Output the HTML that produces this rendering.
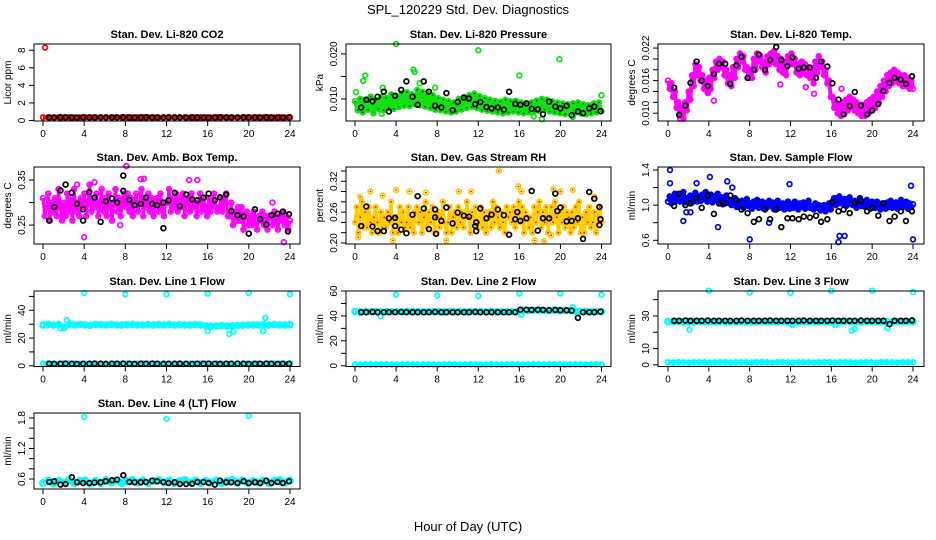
<!DOCTYPE html>
<html><head><meta charset="utf-8">
<style>
html,body{margin:0;padding:0;background:#fff;}
svg{display:block;font-family:"Liberation Sans",sans-serif;}
</style></head>
<body>
<svg id="chart" width="936" height="540" viewBox="0 0 936 540">
<text x="468" y="14" text-anchor="middle" font-size="13">SPL_120229  Std. Dev. Diagnostics</text>
<text x="468" y="531" text-anchor="middle" font-size="13">Hour of Day (UTC)</text>
</svg>
<script>
const xTicks=[0,4,8,12,16,20,24];
const blkHours=[0.6,1.1,1.7,2.2,2.8,3.3,3.9,4.5,5.0,5.6,6.1,6.7,7.2,7.8,8.4,8.9,9.5,10.0,10.6,11.1,11.7,12.2,12.8,13.3,13.9,14.5,15.0,15.6,16.1,16.7,17.2,17.8,18.3,18.9,19.5,20.0,20.6,21.1,21.7,22.2,22.8,23.3,23.9];

// CO2
const co2Col=[0.35,0.36,0.34,0.37,0.35,0.36,0.34,0.35,0.37,0.36,0.35,0.34,0.36,0.35,0.37,0.35,0.36,0.34,0.35,0.36,0.37,0.35,0.34,0.36,0.35,0.36,0.35,0.37,0.34,0.35,0.36,0.35,0.34,0.36,0.37,0.35,0.36,0.34,0.35,0.36,0.35,0.37,0.36,0.35,0.34,0.36,0.35,0.36];
const co2Blk=[0.35,0.34,0.36,0.35,0.35,0.34,0.36,0.35,0.35,0.36,0.34,0.35,0.35,0.36,0.35,0.34,0.35,0.36,0.35,0.35,0.34,0.36,0.35,0.35,0.34,0.36,0.35,0.35,0.34,0.35,0.36,0.35,0.34,0.35,0.36,0.35,0.35,0.34,0.36,0.35,0.35,0.34,0.35];
const co2OutX=[0.2], co2OutY=[8.3];

// Pressure (x0.001 kPa)
const presCol=[9.5,7.5,10,7,9.8,7.6,10.5,7.2,9.7,7.8,10.4,7.5,10.2,8,11,7.8,10.5,8.2,11.2,8.5,11.5,8.4,11,8.8,12,8.6,11.6,8.3,11.2,8,10.8,7.6,10.2,7.5,9.8,7.2,9.5,7,9.2,7.2,10,7.6,10.4,8,10.8,8.2,11.2,8,10.6,7.6,10.2,7.4,9.8,7.2,9.6,7,9.4,6.8,9.8,7,9.5,7.2,9.6,7,9.2,6.8,9,7,9.2,7.2,9.6,7.4,10,7.6,9.8,7.2,9.5,7,9.2,6.8,9,6.6,8.8,6.8,9,7,9.2,6.8,8.8,6.6,8.6,6.8,9,7,9.2,7.2];
const presBlk=[8.1,9.8,9.5,10.5,11.6,7.2,10.7,12,13.9,10.5,8.7,13.9,11.6,8.5,8.1,11.3,7.5,9.3,10.3,10.1,8.8,9.3,8.2,7.9,8.1,7.6,11.6,8.9,8.7,9,7.8,7.7,6.6,9.4,8.3,7.9,8.5,6.4,7.2,6.8,7.9,8.3,7.3];
const presOutX=[0.1,0.8,1.0,2.7,4.0,5.7,5.8,6.3,7.8,12.0,16.0,19.9,24.0,17.4,18.2,21.2,1.8,2.6];
const presOutY=[11.5,14,15.2,12.5,22.2,16.5,16,13.5,12.5,20.8,15.2,18.8,10.8,6.1,5.5,6,6.8,6.7];

// Li-820 temp (x0.001 C)
const tempCol=[16,14.5,15.5,13,14,11,12,9.5,11,9,12,10.5,14,12.5,17,15,19,17,18.5,16,17,14.5,16,14,16.5,14.5,18,16.5,19.5,18,20,18.5,19.5,17,18,15.5,17,15,18.5,16.5,20,18.5,21,19.5,20.5,18,18.5,16.5,18,16.5,20,18,21,19.5,20.5,18.5,19.5,17.5,20.5,19,21,19.5,21.5,19,20.5,18,20,17.5,19.5,17,20.5,19,21,19,20,17.5,19,17,19.5,17.5,19,17,18.5,16.5,18,15.5,19.5,17.5,20.5,18.5,19.5,17,18,15.5,16,13,13,11,12,10,11.5,9.5,12,10,12.5,10.5,13,11,12.5,10.5,12,10,11.5,9.5,11.5,9.5,12,10,12.5,10.5,13,11,14,12,15,13,16,14,17,15,17.5,15.5,18,16,17.5,15.5,17,15,17,15,16.5,14.5,16,14.5];
const tempBlk=[14.7,9.7,11.4,15.6,19.5,16,15,17.2,19.1,19.1,15.4,18.8,20.4,16.5,18,20.8,18,19.8,22.2,19.8,18.7,20.3,18.2,18.4,18.4,16.5,19.5,18.6,15.5,12.5,9.8,11.3,13.9,11.4,9.8,10.5,11.7,14.1,15.6,16.5,16.2,15.4,16.8];
const tempOutX=[1.2,3.9,4.5,11.0,13.5,14.3,17.0];
const tempOutY=[9.0,13.7,12.3,15.3,14.8,13.6,14.5];

// Amb box temp
const ambCol=[31,27,29,32,26,30,28,31,27,33,29,26,30,27,32,28,31,26,33,28,30,27,31,29,32,27,30,34,28,31,29,32,27,30,33,28,31,27,32,29,26,30,33,28,31,27,30,32,29,32,28,31,27,30,32,28,30,33,27,31,29,32,28,31,27,30,31,28,32,29,27,30,30,33,28,31,29,32,28,31,29,32,27,30,31,28,32,29,30,27,30,32,28,31,29,27,31,28,30,32,29,28,29,31,28,30,32,27,27,30,25,28,26,29,26,29,24,27,28,25,27,25,28,26,24,27,26,28,25,27,24,27,27,25,28,26,24,27,26,28,25,27,24,26];
const ambBlk=[0.260,0.290,0.327,0.340,0.322,0.297,0.285,0.323,0.311,0.257,0.303,0.309,0.300,0.326,0.306,0.294,0.297,0.311,0.297,0.294,0.300,0.305,0.322,0.292,0.318,0.307,0.305,0.311,0.320,0.305,0.312,0.318,0.281,0.272,0.269,0.231,0.285,0.263,0.251,0.272,0.275,0.280,0.274];
const ambOutX=[8.1,9.5,9.8,5.0,4.0,23.4,22.3,3.3,7.5,14.2,15.0];
const ambOutY=[0.381,0.352,0.353,0.345,0.223,0.212,0.30,0.34,0.25,0.35,0.35];
const ambBlkExX=[7.8,11.7,23.8,3.9], ambBlkExY=[0.36,0.243,0.236,0.26];

// RH
const rhCol=[24,27,22,25,28,23,26,23,27,24,22,25,27,24,22,26,23,25,23,26,24,28,22,25,25,22,27,24,26,23,24,27,23,25,22,26,27,24,26,22,25,28,23,26,24,27,22,25,26,23,25,28,24,22,24,27,22,25,26,23,27,24,26,23,25,28,25,22,26,24,27,23,24,27,23,26,22,25,26,23,28,24,27,25,23,26,24,22,27,25,26,24,27,23,25,28,24,27,22,26,25,23,25,22,27,24,26,28,23,26,24,27,22,25,27,24,28,25,22,26,24,27,23,26,25,22,26,23,27,24,28,22,25,22,26,24,27,23,24,26,22,25,27,24];
const rhBlk=[0.233,0.271,0.232,0.223,0.223,0.248,0.249,0.226,0.219,0.255,0.291,0.267,0.227,0.265,0.243,0.269,0.238,0.259,0.253,0.251,0.233,0.267,0.248,0.255,0.265,0.254,0.216,0.246,0.243,0.248,0.301,0.224,0.248,0.248,0.296,0.269,0.242,0.243,0.248,0.208,0.299,0.286,0.246];
const rhOutX=[0.3,0.5,1.5,2.7,3.7,4.0,5.3,8.9,10.1,11.3,14.0,15.9,16.2,17.5,18.4,19.3,19.1,20.0,21.2,23.3,6.9];
const rhOutY=[0.211,0.29,0.30,0.292,0.205,0.303,0.30,0.205,0.30,0.30,0.34,0.31,0.30,0.205,0.203,0.305,0.215,0.30,0.303,0.29,0.298];
const rhBlkExX=[7.9,7.8,11.8,11.8,15.8,23.8,23.8,3.9,19.7], rhBlkExY=[0.218,0.25,0.24,0.223,0.26,0.27,0.235,0.233,0.262];

// Sample flow
const sfCol=[104,110,102,108,113,105,112,104,109,115,103,108,106,111,103,109,114,104,110,105,112,107,115,104,108,112,103,110,106,113,104,109,101,107,111,103,106,100,104,108,98,103,101,105,97,103,107,99,102,96,104,99,106,97,100,104,96,102,98,105,99,103,95,101,105,97,98,102,95,100,104,96,101,97,104,99,95,102,98,103,96,101,105,97,99,95,102,97,100,94,96,100,93,98,102,95,104,108,100,106,110,102,103,107,99,105,109,101,100,105,97,103,108,99,102,98,106,100,96,104,101,97,104,99,95,102,100,96,103,98,105,97,99,103,96,101,106,98,100,104,96,102,98,101];
const sfBlk=[0.99,1.13,1.00,1.02,1.08,0.97,1.11,0.90,1.02,1.02,1.11,1.06,0.95,0.91,0.81,0.84,0.95,0.84,0.95,0.75,0.85,0.85,0.84,0.87,0.86,0.88,0.81,0.84,1.03,0.93,0.95,0.91,1.03,1.05,0.93,0.97,0.88,1.02,0.82,0.87,0.93,0.82,0.93];
const sfOutX=[0.2,0.2,1.5,2.8,4.1,4.9,5.8,6.3,8.0,11.9,16.7,16.8,17.3,23.8,24.0,1.8,2.2,9.9];
const sfOutY=[1.40,1.25,0.82,1.25,1.32,0.75,1.27,1.2,0.61,1.24,0.58,0.65,0.65,1.22,0.61,0.92,0.92,0.8];

// Line 1
const l1Hi=[29.5,29.8,29.3,29.6,27.5,30,29.4,29.7,29.5,29.2,29.8,29.6,29.4,29.7,29.5,29.3,29.6,29.8,29.4,29.5,29.6,29.3,29.7,29.5,29.8,29.4,29.6,29.5,29.3,29.7,29.5,28.8,28.5,28.7,28.9,28.6,28.8,29,29.2,29.4,29.3,29.5,29.6,29.4,29.7,29.5,29.3,29.6];
const l1Lo=[1.6,1.5,1.6,1.4,1.5,1.6,1.5,1.4,1.6,1.5,1.5,1.6,1.4,1.5,1.6,1.5,1.5,1.4,1.6,1.5,1.5,1.6,1.4,1.5,1.6,1.5,1.5,1.4,1.6,1.5,1.5,1.6,1.4,1.5,1.6,1.5,1.5,1.4,1.6,1.5,1.5,1.6,1.4,1.5,1.6,1.5,1.5,1.6];
const l1Blk=[1.5,1.4,1.5,1.6,1.5,1.4,1.5,1.5,1.6,1.5,1.4,1.5,1.5,1.6,1.5,1.4,1.5,1.5,1.6,1.5,1.4,1.5,1.5,1.6,1.5,1.4,1.5,1.5,1.6,1.5,1.4,1.5,1.5,1.6,1.5,1.4,1.5,1.5,1.6,1.5,1.4,1.5,1.5];
const l1OutX=[4,8,12,16,20,24,2.3,1.7,16.0,18.1,18.5,21.4,21.6];
const l1OutY=[52.5,51.5,51.5,52,52.5,51.5,33,27,25,23,24.5,25,34.5];

// Line 2
const l2Hi=[43.5,43.2,43.6,43.4,43.5,43.3,43.6,43.4,43.5,43.2,43.6,43.4,43.5,43.3,43.6,43.4,43.5,43.2,43.6,43.4,43.5,43.3,43.6,43.4,43.5,43.2,43.6,43.4,43.5,43.3,43.6,43.4,44.5,44.3,44.6,44.4,44.5,44.3,44.6,44.4,44.5,44.3,43.8,43.5,43.6,43.4,43.5,43.3];
const l2Lo=[1.0,0.9,1.1,1.0,0.9,1.0,1.1,1.0,0.9,1.0,1.1,1.0,0.9,1.0,1.1,1.0,0.9,1.0,1.1,1.0,0.9,1.0,1.1,1.0,0.9,1.0,1.1,1.0,0.9,1.0,1.1,1.0,0.9,1.0,1.1,1.0,0.9,1.0,1.1,1.0,0.9,1.0,1.1,1.0,0.9,1.0,1.1,1.0];
const l2Blk=[43,43,43.2,43,43,43,43,43.2,43,43,43,43,43,43.2,43,43,43,43,43,43,43.2,43,43,43,43,43,43,43,45,45,44.8,45,44.8,44.6,44.8,44.5,44.5,44.3,38.5,43,43,43,43.5];
const l2OutX=[4,8,12,16,20,24,2.5,16.2,21.2];
const l2OutY=[57,56.5,56,58,58,57,40,41,47];

// Line 3
const l3Hi=[26.5,26.3,26.6,26.4,26.5,26.3,26.6,26.4,26.5,26.3,26.6,26.4,26.5,26.3,26.6,26.4,26.5,26.3,26.6,26.4,26.5,26.3,26.6,26.4,26.5,26.3,26.6,26.4,26.5,26.3,26.6,26.4,26.5,26.3,26.6,26.4,26.5,26.3,26.6,26.4,26.5,26.3,26.6,26.4,26.5,26.3,26.6,26.4];
const l3Lo=[1.5,1.4,1.6,1.5,1.4,1.5,1.6,1.5,1.4,1.5,1.6,1.5,1.4,1.5,1.6,1.5,1.4,1.5,1.6,1.5,1.4,1.5,1.6,1.5,1.4,1.5,1.6,1.5,1.4,1.5,1.6,1.5,1.4,1.5,1.6,1.5,1.4,1.5,1.6,1.5,1.4,1.5,1.6,1.5,1.4,1.5,1.6,1.5];
const l3Blk=[27,27,27.2,27,27,27,27.2,27,27,27,27,27,27.2,27,27,27,27,27.2,27,27,27,27,27,27.2,27,27,27,27,27.2,27,27,27,27,27.2,27,27,27,27,25,27,27,27,27.3];
const l3OutX=[4,8,12,16,20,24,2.1,18.0,18.3,21.5,12.2,16.4];
const l3OutY=[45.5,44.3,44.3,45.5,45.5,44.6,21.5,21,22,22.5,24.5,24.5];

// Line 4
const l4Col=[0.52,0.57,0.51,0.56,0.53,0.58,0.52,0.56,0.57,0.51,0.56,0.52,0.58,0.53,0.57,0.52,0.56,0.58,0.53,0.57,0.52,0.56,0.58,0.53,0.57,0.52,0.56,0.58,0.53,0.57,0.52,0.56,0.53,0.57,0.52,0.56,0.58,0.53,0.57,0.52,0.56,0.53,0.57,0.52,0.56,0.58,0.53,0.57];
const l4Blk=[0.541,0.554,0.489,0.502,0.633,0.534,0.521,0.521,0.528,0.534,0.554,0.574,0.587,0.672,0.541,0.534,0.534,0.541,0.567,0.554,0.541,0.521,0.534,0.502,0.502,0.508,0.541,0.541,0.521,0.489,0.567,0.534,0.534,0.521,0.554,0.521,0.534,0.521,0.567,0.521,0.541,0.521,0.554];
const l4OutX=[4,12,20], l4OutY=[1.82,1.78,1.84];

const NS='http://www.w3.org/2000/svg';
const svg=document.getElementById('chart');
function mk(tag,attrs,parent){const e=document.createElementNS(NS,tag);for(const k in attrs)e.setAttribute(k,attrs[k]);(parent||svg).appendChild(e);return e;}

const cols=[{l:34,r:300,x0:43,x24:290},{l:346,r:611,x0:355,x24:601.5},{l:658,r:924,x0:668,x24:913}];
const rows=[{t:44,b:121},{t:167,b:244},{t:291,b:366.5},{t:413,b:489}];

function panel(name,title,ylab,ci,ri,ylo,yhi,yticks,ylabels,layers){
  const c=cols[ci],r=rows[ri];
  const g=mk('g',{});
  
  
  const X=h=>c.x0+(c.x24-c.x0)*h/24;
  const Y=v=>r.b-(v-ylo)/(yhi-ylo)*(r.b-r.t);
  const pts=mk('g',{},g);
  
  
  layers.forEach(L=>{
    const P=L.ys.map((v,i)=>{const h=L.xs?L.xs[i]:i*24/(L.ys.length-1);return [X(h),Y(v*(L.k||1))];});
    if(L.bw){
      const pl=mk('polyline',{points:P.map(p=>p[0].toFixed(1)+','+p[1].toFixed(1)).join(' '),fill:'none',stroke:L.c,'stroke-width':L.bw,'stroke-linejoin':'round'},pts);
      
      
    }
    P.forEach(p=>{
      const cc=mk('circle',{cx:p[0].toFixed(1),cy:p[1].toFixed(1),r:L.r||2.4,fill:'none',stroke:L.c,'stroke-width':L.w||1.7},pts);
      
      
      if(L.dot){mk('circle',{cx:p[0].toFixed(1),cy:p[1].toFixed(1),r:0.9,fill:L.dot},pts);}
    });
  });
  const box=mk('rect',{x:c.l,y:r.t,width:c.r-c.l,height:r.b-r.t,fill:'none',stroke:'#000','stroke-width':1},g);
  
  
  const t=mk('text',{x:(c.l+c.r)/2,y:r.t-6,'text-anchor':'middle','font-size':11,'font-weight':'bold'},g);
  t.textContent=title;
  
  
  xTicks.forEach(h=>{
    mk('line',{x1:X(h),x2:X(h),y1:r.b,y2:r.b+5,stroke:'#000'},g);
    const tl=mk('text',{x:X(h),y:r.b+16,'text-anchor':'middle','font-size':10},g);
    tl.textContent=h;
    
    
  });
  mk('line',{x1:X(0),x2:X(24),y1:r.b,y2:r.b,stroke:'#000'},g);
  yticks.forEach(v=>{mk('line',{x1:c.l,x2:c.l-5,y1:Y(v),y2:Y(v),stroke:'#000'},g);});
  mk('line',{x1:c.l,x2:c.l,y1:Y(yticks[0]),y2:Y(yticks[yticks.length-1]),stroke:'#000'},g);
  ylabels.forEach(([v,s])=>{
    const yy=Y(v);
    const tl=mk('text',{x:c.l-9,y:yy,'text-anchor':'middle','font-size':10,transform:`rotate(-90 ${c.l-9} ${yy})`},g);
    tl.textContent=s;
    
    
  });
  const cy=(r.t+r.b)/2;
  const yl=mk('text',{x:c.l-23,y:cy,'text-anchor':'middle','font-size':10,transform:`rotate(-90 ${c.l-23} ${cy})`},g);
  yl.textContent=ylab;
  
  
}

const RED='#ff0000',BLK='#000',GRN='#11e011',MAG='#ff00ff',BLU='#0000ff',CYN='#00ffff',YEL='#ffcc00';
panel('panel-co2','Stan. Dev. Li-820 CO2','Licor ppm',0,0,-0.06,8.71,[0,2,4,6,8],[[0,'0'],[2,'2'],[4,'4'],[6,'6'],[8,'8']],[
 {ys:co2Col,c:RED,bw:4},{xs:co2OutX,ys:co2OutY,c:RED},{xs:blkHours,ys:co2Blk,c:BLK}]);
panel('panel-pressure','Stan. Dev. Li-820 Pressure','kPa',1,0,0.0051,0.0222,[0.010,0.015,0.020],[[0.010,'0.010'],[0.020,'0.020']],[
 {ys:presCol,c:GRN,k:0.001,dot:'#0a5a0a',bw:4},{xs:presOutX,ys:presOutY,c:GRN,k:0.001},{xs:blkHours,ys:presBlk,c:BLK,k:0.001}]);
panel('panel-li820-temp','Stan. Dev. Li-820 Temp.','degrees C',2,0,0.00856,0.02275,[0.010,0.012,0.014,0.016,0.018,0.020,0.022],[[0.010,'0.010'],[0.016,'0.016'],[0.022,'0.022']],[
 {ys:tempCol,c:MAG,k:0.001,bw:4},{xs:tempOutX,ys:tempOutY,c:MAG,k:0.001},{xs:blkHours,ys:tempBlk,c:BLK,k:0.001}]);
panel('panel-amb-box-temp','Stan. Dev. Amb. Box Temp.','degrees C',0,1,0.208,0.379,[0.25,0.30,0.35],[[0.25,'0.25'],[0.35,'0.35']],[
 {ys:ambCol,c:MAG,k:0.01,bw:3},{xs:ambOutX,ys:ambOutY,c:MAG},{xs:blkHours,ys:ambBlk,c:BLK},{xs:ambBlkExX,ys:ambBlkExY,c:BLK}]);
panel('panel-gas-rh','Stan. Dev. Gas Stream RH','percent',1,1,0.198,0.3477,[0.20,0.22,0.24,0.26,0.28,0.30,0.32,0.34],[[0.20,'0.20'],[0.26,'0.26'],[0.32,'0.32']],[
 {ys:rhCol,c:YEL,k:0.01,dot:RED,bw:3},{xs:rhOutX,ys:rhOutY,c:YEL,dot:RED},{xs:blkHours,ys:rhBlk,c:BLK},{xs:rhBlkExX,ys:rhBlkExY,c:BLK}]);
panel('panel-sample-flow','Stan. Dev. Sample Flow','ml/min',2,1,0.558,1.434,[0.6,0.8,1.0,1.2,1.4],[[0.6,'0.6'],[1.0,'1.0'],[1.4,'1.4']],[
 {ys:sfCol,c:BLU,k:0.01,bw:4},{xs:sfOutX,ys:sfOutY,c:BLU},{xs:blkHours,ys:sfBlk,c:BLK}]);
panel('panel-line1-flow','Stan. Dev. Line 1 Flow','ml/min',0,2,-0.5,53.9,[0,10,20,30,40,50],[[0,'0'],[20,'20'],[40,'40']],[
 {ys:l1Hi,c:CYN,r:2.6,w:2.4,bw:5},{ys:l1Lo,c:CYN,r:2.4,w:2,bw:4},{xs:l1OutX,ys:l1OutY,c:CYN},{xs:blkHours,ys:l1Blk,c:BLK}]);
panel('panel-line2-flow','Stan. Dev. Line 2 Flow','ml/min',1,2,-0.6,60,[0,10,20,30,40,50,60],[[0,'0'],[20,'20'],[40,'40'],[60,'60']],[
 {ys:l2Hi,c:CYN,r:2.6,w:2.4,bw:5},{ys:l2Lo,c:CYN,r:2.4,w:2,bw:4},{xs:l2OutX,ys:l2OutY,c:CYN},{xs:blkHours,ys:l2Blk,c:BLK}]);
panel('panel-line3-flow','Stan. Dev. Line 3 Flow','ml/min',2,2,-1,45.3,[0,10,20,30,40],[[0,'0'],[10,'10'],[30,'30']],[
 {ys:l3Hi,c:CYN,r:2.6,w:2.4,bw:5},{ys:l3Lo,c:CYN,r:2.4,w:2,bw:4},{xs:l3OutX,ys:l3OutY,c:CYN},{xs:blkHours,ys:l3Blk,c:BLK}]);
panel('panel-line4-flow','Stan. Dev. Line 4 (LT) Flow','ml/min',0,3,0.403,1.898,[0.6,0.8,1.0,1.2,1.4,1.6,1.8],[[0.6,'0.6'],[1.2,'1.2'],[1.8,'1.8']],[
 {ys:l4Col,c:CYN,r:2.8,w:2.4,bw:6},{xs:l4OutX,ys:l4OutY,c:CYN},{xs:blkHours,ys:l4Blk,c:BLK}]);
</script>
</body></html>
